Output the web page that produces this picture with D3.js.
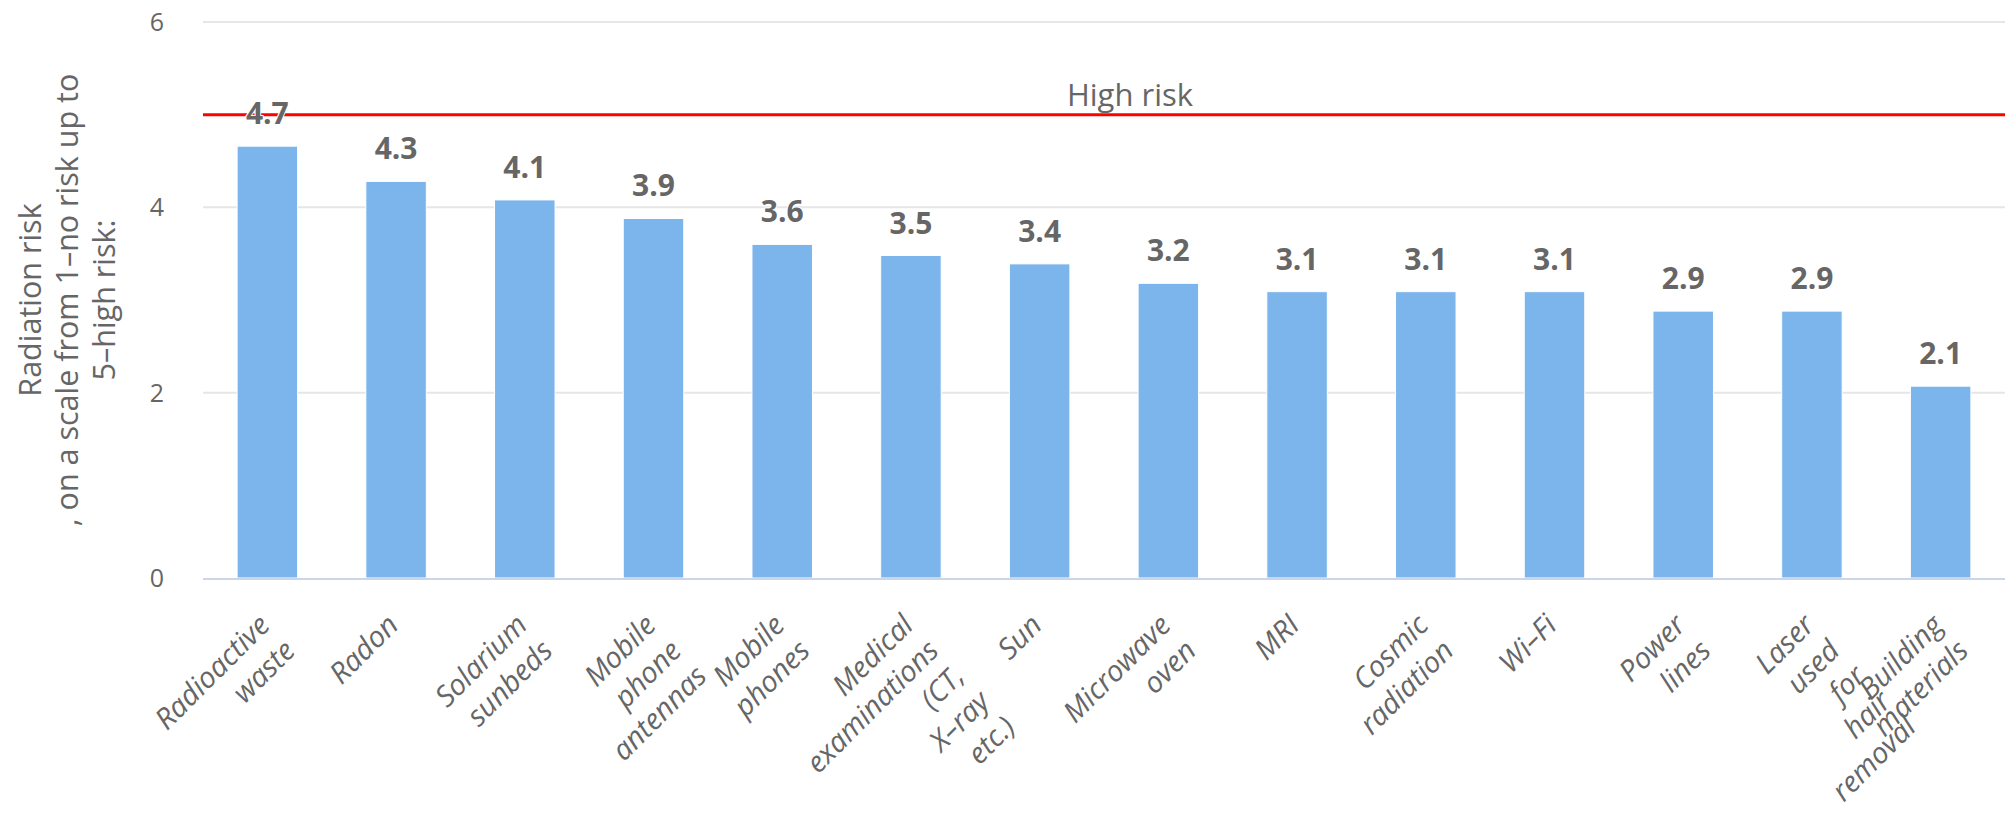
<!DOCTYPE html>
<html>
<head>
<meta charset="utf-8">
<script src="https://cdn.jsdelivr.net/npm/d3@7"></script>
<style>
  body { margin: 0; background: #fff; }
  text { font-family: "Open Sans", "DejaVu Sans", sans-serif; }
</style>
</head>
<body>
<div id="chart"></div>
<script>
// Data
const categories = [
  'Radioactive\nwaste', 'Radon', 'Solarium\nsunbeds', 'Mobile\nphone\nantennas',
  'Mobile\nphones', 'Medical\nexaminations\n(CT,\nX–ray\netc.)', 'Sun',
  'Microwave\noven', 'MRI', 'Cosmic\nradiation', 'Wi–Fi', 'Power\nlines',
  'Laser\nused\nfor\nhair\nremoval', 'Building\nmaterials'
];
const riskValues = [4.66, 4.28, 4.08, 3.88, 3.6, 3.48, 3.39, 3.18, 3.09, 3.09, 3.09, 2.88, 2.88, 2.07];
const yTicks = [0, 2, 4, 6];
const highRiskValue = 5;
const highRiskLabel = 'High risk';
const yTitleLines = ['Radiation risk', ', on a scale from 1–no risk up to', '5–high risk:'];

// Constants
const WIDTH = 2008;
const HEIGHT = 814;
const PLOT = { left: 203, right: 2005, top: 22, bottom: 578 };

const svg = d3.select('#chart')
  .append('svg')
  .attr('width', WIDTH)
  .attr('height', HEIGHT);

// Scales
const x = d3.scaleBand()
  .domain(categories)
  .range([PLOT.left, PLOT.right])
  .paddingInner(0.53)
  .paddingOuter(0.265);

const y = d3.scaleLinear()
  .domain([0, 6])
  .range([PLOT.bottom, PLOT.top]);

// Grid lines
svg.append('g')
  .selectAll('line')
  .data(yTicks.filter(d => d !== 0))
  .join('line')
  .attr('x1', PLOT.left)
  .attr('x2', PLOT.right)
  .attr('y1', d => y(d))
  .attr('y2', d => y(d))
  .attr('stroke', '#e6e6e6')
  .attr('stroke-width', 2);

// Y axis labels
svg.append('g')
  .selectAll('text')
  .data(yTicks)
  .join('text')
  .attr('x', 164)
  .attr('y', d => y(d))
  .attr('dy', '0.36em')
  .attr('text-anchor', 'end')
  .attr('fill', '#666')
  .attr('font-size', 25)
  .text(d => d);

// Y axis title
const yTitle = svg.append('text')
  .attr('transform', `translate(41, ${(PLOT.top + PLOT.bottom) / 2}) rotate(-90)`)
  .attr('text-anchor', 'middle')
  .attr('fill', '#666')
  .attr('font-size', 30.5);
yTitle.selectAll('tspan')
  .data(yTitleLines)
  .join('tspan')
  .attr('x', 0)
  .attr('dy', (d, i) => i === 0 ? 0 : 37)
  .text(d => d);

// Bars
svg.append('g')
  .selectAll('rect')
  .data(riskValues)
  .join('rect')
  .attr('x', (d, i) => x(categories[i]))
  .attr('y', d => y(d))
  .attr('width', x.bandwidth())
  .attr('height', d => y(0) - y(d))
  .attr('fill', '#7cb5ec')
  .attr('stroke', '#fff')
  .attr('stroke-width', 1);

// X axis line
svg.append('line')
  .attr('x1', PLOT.left)
  .attr('x2', PLOT.right)
  .attr('y1', y(0) + 1)
  .attr('y2', y(0) + 1)
  .attr('stroke', '#ccd6eb')
  .attr('stroke-width', 2);

// High risk line
svg.append('line')
  .attr('x1', PLOT.left)
  .attr('x2', PLOT.right)
  .attr('y1', y(highRiskValue))
  .attr('y2', y(highRiskValue))
  .attr('stroke', '#ff0000')
  .attr('stroke-width', 3);

svg.append('text')
  .attr('x', (PLOT.left + PLOT.right) / 2 + 26)
  .attr('y', y(highRiskValue) - 9)
  .attr('text-anchor', 'middle')
  .attr('fill', '#666')
  .attr('font-size', 31)
  .text(highRiskLabel);

// Data labels
svg.append('g')
  .selectAll('text')
  .data(riskValues)
  .join('text')
  .attr('x', (d, i) => x(categories[i]) + x.bandwidth() / 2)
  .attr('y', d => y(d) - 22)
  .attr('text-anchor', 'middle')
  .attr('fill', '#666')
  .attr('font-size', 30)
  .attr('font-weight', 'bold')
  .attr('stroke', '#fff')
  .attr('stroke-width', 2)
  .attr('paint-order', 'stroke')
  .text(d => d3.format('.1f')(d));

// Category labels, rotated
const catLabel = svg.append('g')
  .selectAll('text')
  .data(categories)
  .join('text')
  .attr('transform', d => `translate(${x(d) + x.bandwidth() / 2 + 4}, ${y(0) + 49}) rotate(-45)`)
  .attr('text-anchor', 'end')
  .attr('fill', '#666')
  .attr('font-size', 29)
  .attr('font-style', 'italic');

catLabel.selectAll('tspan')
  .data(d => d.split('\n'))
  .join('tspan')
  .attr('x', 0)
  .attr('dy', (d, i) => i === 0 ? 0 : 36)
  .text(d => d);
</script>
</body>
</html>
